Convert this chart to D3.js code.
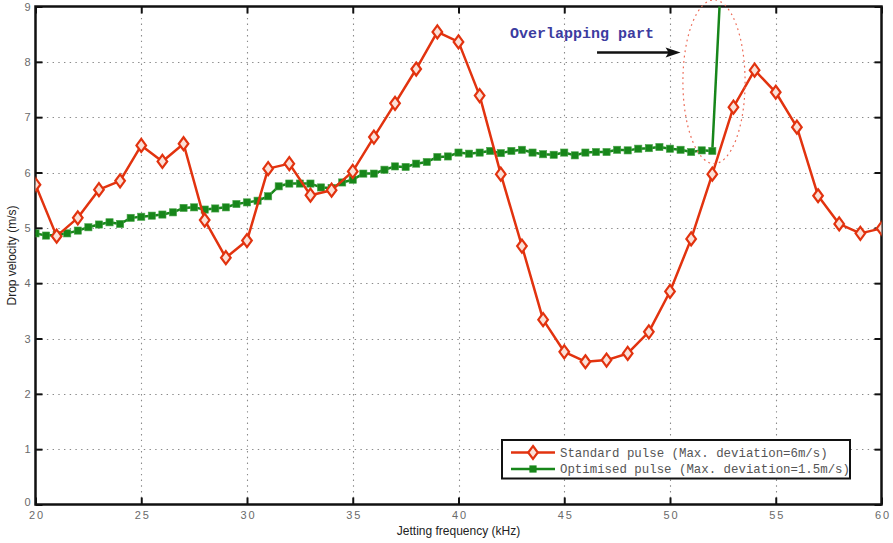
<!DOCTYPE html>
<html>
<head>
<meta charset="utf-8">
<script src="https://cdn.jsdelivr.net/npm/d3@7"></script>
<style>
  html, body { margin: 0; padding: 0; background: #fff; }
  svg { display: block; }
</style>
</head>
<body>
<svg id="chart" width="893" height="543"></svg>
<script>
// Jetting frequency samples (kHz)
const standardFreq = d3.range(20, 61, 1);
// Drop velocity for the standard pulse (m/s)
const standardVelocity = [
  5.78, 4.85, 5.18, 5.69, 5.85, 6.49, 6.20, 6.52, 5.14, 4.46,
  4.77, 6.07, 6.16, 5.59, 5.68, 6.02, 6.64, 7.25, 7.87, 8.54,
  8.36, 7.39, 5.97, 4.67, 3.34, 2.76, 2.58, 2.61, 2.73, 3.12,
  3.85, 4.80, 5.97, 7.18, 7.85, 7.45, 6.82, 5.58, 5.07, 4.90,
  4.99
];

// Optimised pulse, sampled every 0.5 kHz up to 52 kHz, then the jump
const optimisedFreq = d3.range(20, 52.01, 0.5).concat([52.5]);
const optimisedVelocity = [
  4.90, 4.86, 4.87, 4.90, 4.95, 5.01, 5.06, 5.10, 5.07, 5.18,
  5.20, 5.22, 5.24, 5.28, 5.36, 5.37, 5.33, 5.35, 5.37, 5.43,
  5.46, 5.49, 5.57, 5.75, 5.80, 5.80, 5.80, 5.73, 5.72, 5.82,
  5.87, 5.98, 5.98, 6.05, 6.11, 6.10, 6.16, 6.19, 6.28, 6.29,
  6.36, 6.34, 6.36, 6.39, 6.35, 6.39, 6.41, 6.36, 6.33, 6.32,
  6.36, 6.31, 6.36, 6.37, 6.37, 6.41, 6.40, 6.43, 6.44, 6.46,
  6.43, 6.41, 6.37, 6.40, 6.39,
  10.2
];

const xTicks = [20, 25, 30, 35, 40, 45, 50, 55, 60];
const yTicks = [0, 1, 2, 3, 4, 5, 6, 7, 8, 9];

const legendLabels = [
  "Standard pulse (Max. deviation=6m/s)",
  "Optimised pulse (Max. deviation=1.5m/s)"
];
const annotationText = "Overlapping part";
// Dotted ellipse around the overlapping region: centre and radii in data units
const overlapCenter = [52.08, 7.64];
const overlapRadius = [1.47, 1.48];
// Arrow pointing at the ellipse (kHz, m/s)
const arrowFrom = [46.55, 8.17];
const arrowTo = [50.5, 8.17];

const RED = "#e2330f";
const GREEN = "#17861a";

const svg = d3.select("#chart");
const pLeft = 35.5, pRight = 881.5, pTop = 6.5, pBottom = 504.5;

const x = d3.scaleLinear().domain([20, 60]).range([pLeft, pRight]);
const y = d3.scaleLinear().domain([0, 9]).range([pBottom, pTop]);

svg.append("defs").append("clipPath").attr("id", "plotClip")
  .append("rect")
  .attr("x", pLeft).attr("y", pTop)
  .attr("width", pRight - pLeft).attr("height", pBottom - pTop);

// Dotted grid
const grid = svg.append("g").attr("stroke", "#8a8a8a").attr("stroke-width", 1.1)
  .attr("stroke-dasharray", "1.4,4.3");
grid.selectAll(".gx").data(xTicks.slice(1, -1)).join("line")
  .attr("x1", d => Math.round(x(d)) + 0.5).attr("x2", d => Math.round(x(d)) + 0.5)
  .attr("y1", pTop).attr("y2", pBottom);
grid.selectAll(".gy").data(yTicks.slice(1, -1)).join("line")
  .attr("y1", d => Math.round(y(d)) + 0.5).attr("y2", d => Math.round(y(d)) + 0.5)
  .attr("x1", pLeft).attr("x2", pRight);

// Axes with inward ticks on all four sides
const tickLen = 7;
const fontAxis = "'Liberation Sans', Arial, sans-serif";
const xAxisB = d3.axisBottom(x).tickValues(xTicks).tickSizeInner(-tickLen).tickSizeOuter(0).tickPadding(7);
const xAxisT = d3.axisTop(x).tickValues(xTicks).tickSizeInner(-tickLen).tickSizeOuter(0).tickFormat("");
const yAxisL = d3.axisLeft(y).tickValues(yTicks).tickSizeInner(-tickLen).tickSizeOuter(0).tickPadding(5);
const yAxisR = d3.axisRight(y).tickValues(yTicks).tickSizeInner(-tickLen).tickSizeOuter(0).tickFormat("");

function styleAxis(g) {
  g.select(".domain").remove();
  g.selectAll(".tick line").attr("stroke", "#111").attr("stroke-width", 2);
  g.selectAll(".tick text").attr("fill", "#6a6a6a").attr("font-size", 11)
    .attr("font-family", fontAxis).attr("letter-spacing", 1.8);
}
svg.append("g").attr("transform", `translate(0,${pBottom})`).call(xAxisB).call(styleAxis)
  .selectAll(".tick text").attr("dx", 1);
svg.append("g").attr("transform", `translate(0,${pTop})`).call(xAxisT).call(styleAxis);
svg.append("g").attr("transform", `translate(${pLeft},0)`).call(yAxisL).call(styleAxis)
  .selectAll(".tick text").attr("dx", 2)
  .attr("dy", d => d === 0 ? "0.05em" : "0.32em");
svg.append("g").attr("transform", `translate(${pRight},0)`).call(yAxisR).call(styleAxis);

// Plot frame
svg.append("rect")
  .attr("x", pLeft).attr("y", pTop)
  .attr("width", pRight - pLeft).attr("height", pBottom - pTop)
  .attr("fill", "none").attr("stroke", "#111").attr("stroke-width", 2.5);

// Axis titles
svg.append("text")
  .attr("x", (pLeft + pRight) / 2).attr("y", 535)
  .attr("text-anchor", "middle").attr("font-family", fontAxis)
  .attr("font-size", 12).attr("fill", "#222")
  .text("Jetting frequency (kHz)");
svg.append("text")
  .attr("transform", `translate(16,${(pTop + pBottom) / 2}) rotate(-90)`)
  .attr("text-anchor", "middle").attr("font-family", fontAxis)
  .attr("font-size", 12).attr("fill", "#222")
  .text("Drop velocity (m/s)");

// Series
const plot = svg.append("g").attr("clip-path", "url(#plotClip)");
const line = d3.line().x(d => x(d[0])).y(d => y(d[1]));

const standard = standardFreq.map((f, i) => [f, standardVelocity[i]]);
const optimised = optimisedFreq.map((f, i) => [f, optimisedVelocity[i]]);

plot.append("path").datum(optimised).attr("d", line)
  .attr("fill", "none").attr("stroke", GREEN).attr("stroke-width", 2.5)
  .attr("stroke-linejoin", "round");
plot.selectAll(".sq").data(optimised).join("rect")
  .attr("x", d => x(d[0]) - 3.6).attr("y", d => y(d[1]) - 3.6)
  .attr("width", 7.2).attr("height", 7.2)
  .attr("fill", GREEN).attr("stroke", "#4aa54a").attr("stroke-width", 0.6);

plot.append("path").datum(standard).attr("d", line)
  .attr("fill", "none").attr("stroke", RED).attr("stroke-width", 2.5)
  .attr("stroke-linejoin", "round");
const diamond = "M0,-6.5L4.8,0L0,6.5L-4.8,0Z";
plot.selectAll(".dm").data(standard).join("path")
  .attr("d", diamond)
  .attr("transform", d => `translate(${x(d[0])},${y(d[1])})`)
  .attr("fill", "#fbe1d8").attr("stroke", RED).attr("stroke-width", 2.2);

// Overlap annotation
svg.append("ellipse")
  .attr("cx", x(overlapCenter[0])).attr("cy", y(overlapCenter[1]))
  .attr("rx", x(overlapCenter[0] + overlapRadius[0]) - x(overlapCenter[0]))
  .attr("ry", y(overlapCenter[1]) - y(overlapCenter[1] + overlapRadius[1]))
  .attr("fill", "none").attr("stroke", "#ec6a56").attr("stroke-width", 1.2)
  .attr("stroke-dasharray", "1.8,3.6");

const ax1 = x(arrowFrom[0]), ay = y(arrowFrom[1]), ax2 = x(arrowTo[0]);
svg.append("line")
  .attr("x1", ax1).attr("y1", ay).attr("x2", ax2 - 10).attr("y2", ay)
  .attr("stroke", "#111").attr("stroke-width", 2.5);
svg.append("path")
  .attr("d", `M${ax2},${ay}L${ax2 - 15},${ay - 5}L${ax2 - 12},${ay}L${ax2 - 15},${ay + 5}Z`)
  .attr("fill", "#111");

svg.append("text")
  .attr("x", 510).attr("y", 38)
  .attr("font-family", "'Liberation Mono', 'Courier New', monospace")
  .attr("font-weight", "bold").attr("font-size", 15).attr("fill", "#3c3ca0")
  .text(annotationText);

// Legend
const lg = svg.append("g");
lg.append("rect")
  .attr("x", 502).attr("y", 440).attr("width", 348).attr("height", 38.5)
  .attr("fill", "#fff").attr("stroke", "#111").attr("stroke-width", 2);
const legendRows = [
  { color: RED, marker: "diamond", y: 452.5 },
  { color: GREEN, marker: "square", y: 469 }
];
legendRows.forEach((r, i) => {
  lg.append("line").attr("x1", 511).attr("x2", 555).attr("y1", r.y).attr("y2", r.y)
    .attr("stroke", r.color).attr("stroke-width", 2.5);
  if (r.marker === "diamond") {
    lg.append("path").attr("d", diamond).attr("transform", `translate(533,${r.y})`)
      .attr("fill", "#fbe1d8").attr("stroke", RED).attr("stroke-width", 2.2);
  } else {
    lg.append("rect").attr("x", 529.4).attr("y", r.y - 3.6).attr("width", 7.2).attr("height", 7.2)
      .attr("fill", GREEN);
  }
  lg.append("text").attr("x", 560).attr("y", r.y + 4.2)
    .attr("font-family", "'Liberation Mono', 'Courier New', monospace")
    .attr("font-size", 12.4).attr("fill", "#555")
    .text(legendLabels[i]);
});
</script>
</body>
</html>
